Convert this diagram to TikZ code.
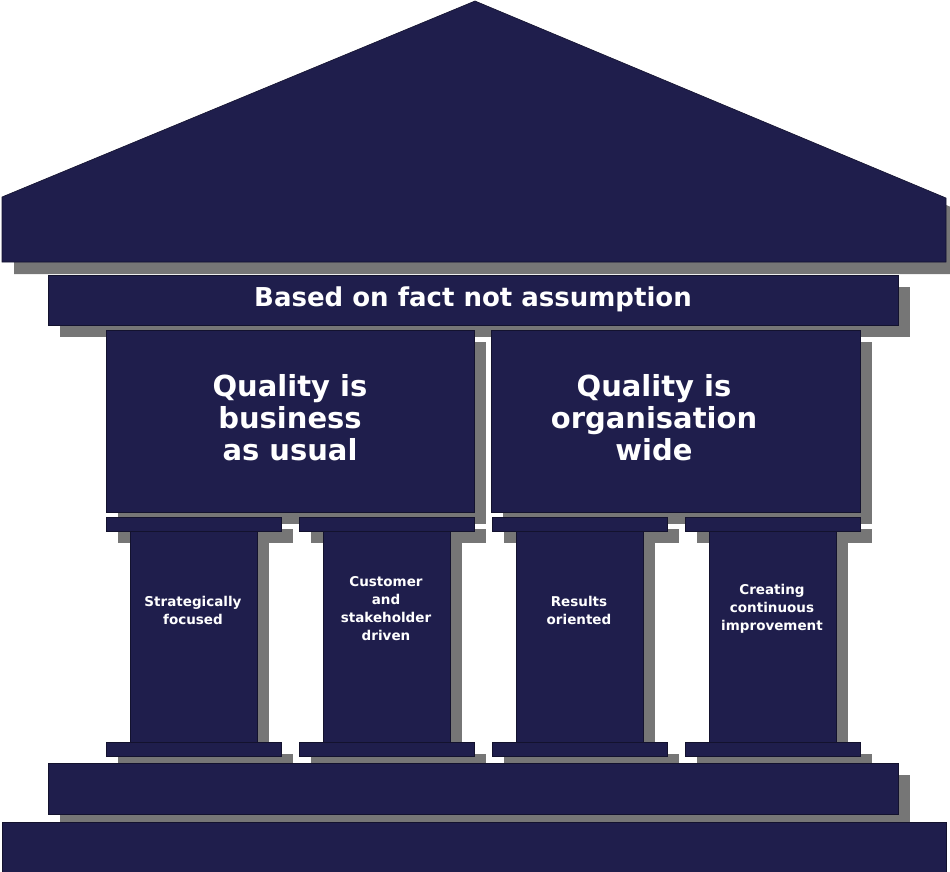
\documentclass[tikz,border=0pt]{standalone}
\usepackage{fontspec}
\setmainfont{DejaVu Sans}
\usetikzlibrary{shadows}
\definecolor{navy}{HTML}{1F1E4C}
\definecolor{shadowgray}{HTML}{767676}
\begin{document}
\begin{tikzpicture}[x=1pt, y=-1pt,
    slab/.style={fill=navy, draw=navy!60!black, line width=0.6pt,
      drop shadow={shadow xshift=12pt, shadow yshift=-12pt, fill=shadowgray, opacity=1}},
    plain/.style={fill=navy, draw=navy!60!black, line width=0.6pt},
    label/.style={text=white, font=\bfseries, align=center, inner sep=0pt},
    biglabel/.style={label, font=\bfseries\fontsize{29}{32}\selectfont},
    smalllabel/.style={label, font=\bfseries\fontsize{13.5}{18}\selectfont}
  ]
  \useasboundingbox (0,0) rectangle (950,872);

  % roof
  \path[slab] (2,197) -- (475,1) -- (946,198) -- (946,262) -- (2,262) -- cycle;
  % architrave
  \path[slab] (48,275) rectangle (898,325);
  \node[label, font=\bfseries\fontsize{26}{30}\selectfont] (fact) at (473,299) {Based on fact not assumption};

  % upper blocks
  \path[slab] (106,330) rectangle (474,512);
  \path[slab] (491,330) rectangle (860,512);
  \node[biglabel] (usual) at (290,418) {Quality is\\business\\as usual};
  \node[biglabel] (wide) at (654,418) {Quality is\\organisation\\wide};

  % columns
  \foreach \cx in {193,386,579,772}{
    \path[slab] (\cx-87,517) rectangle (\cx+88,531);
  }
  \foreach \cx in {193,386,579,772}{
    \path[slab] (\cx-63,531) rectangle (\cx+64,742);
  }
  \foreach \cx in {193,386,579,772}{
    \path[slab] (\cx-87,742) rectangle (\cx+88,756);
  }
  \node[smalllabel] (strat) at (193,610) {Strategically\\focused};
  \node[smalllabel] (cust) at (386,609) {Customer\\and\\stakeholder\\driven};
  \node[smalllabel] (res) at (579,610) {Results\\oriented};
  \node[smalllabel] (impr) at (772,609) {Creating\\continuous\\improvement};

  % plinth and step
  \path[slab] (48,763) rectangle (898,814);
  \path[plain] (2,822) rectangle (946,872);
\end{tikzpicture}
\end{document}
